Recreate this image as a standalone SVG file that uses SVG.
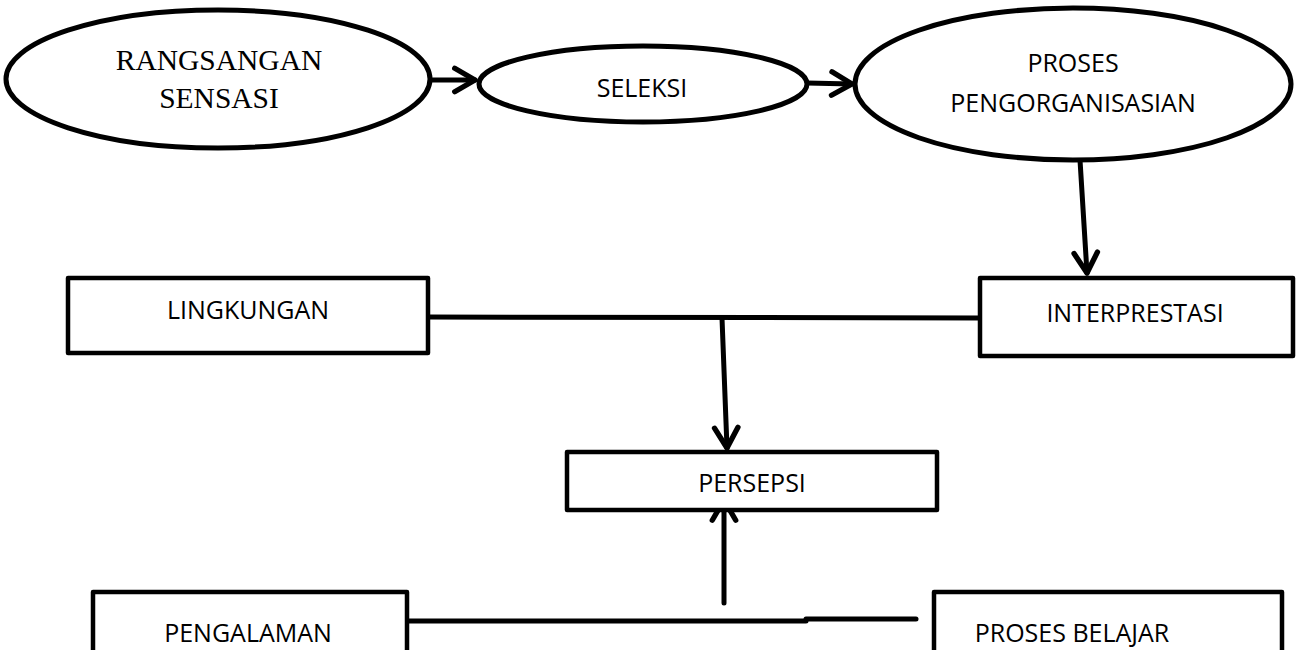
<svg xmlns="http://www.w3.org/2000/svg" width="1299" height="650" viewBox="0 0 1299 650">
  <defs>
    <style>
      .shape { fill: #ffffff; stroke: #000000; stroke-width: 5; }
      .box { fill: #ffffff; stroke: #000000; stroke-width: 4.5; stroke-linejoin: round; }
      .sans { font-family: "Open Sans", "Noto Sans", sans-serif; font-size: 25px; fill: #000000; text-anchor: middle; }
      .serif { font-family: "Liberation Serif", "Times New Roman", serif; font-size: 29.5px; fill: #000000; text-anchor: middle; }
      .conn { stroke: #000000; stroke-width: 5; fill: none; stroke-linecap: round; }
    </style>
    <marker id="arrow" markerUnits="userSpaceOnUse" markerWidth="32" markerHeight="32" viewBox="-24 -15 28 30" refX="0" refY="0" orient="auto">
      <path d="M -19 -11 L 0 0 L -19 11" fill="none" stroke="#000000" stroke-width="5" stroke-linecap="round" stroke-linejoin="round"/>
    </marker>
  </defs>
  <rect x="0" y="0" width="1299" height="650" fill="#ffffff"/>

  <g id="connectors">
    <line class="conn" x1="431" y1="80" x2="475" y2="80" marker-end="url(#arrow)"/>
    <line class="conn" x1="807" y1="83" x2="852" y2="84" marker-end="url(#arrow)"/>
    <line class="conn" x1="1080" y1="160" x2="1087" y2="273" marker-end="url(#arrow)"/>
    <line class="conn" x1="428" y1="317" x2="980" y2="318"/>
    <line class="conn" x1="722" y1="318" x2="727" y2="448" marker-end="url(#arrow)"/>
    <line class="conn" x1="407" y1="621" x2="806" y2="621"/>
    <line class="conn" x1="806" y1="619" x2="916" y2="619"/>
    <line class="conn" x1="724" y1="603" x2="724" y2="500" marker-end="url(#arrow)"/>
  </g>

  <g id="node-rangsangan">
    <ellipse class="shape" cx="218" cy="79" rx="212" ry="69"/>
    <text class="serif" x="219" y="70">RANGSANGAN</text>
    <text class="serif" x="219" y="108">SENSASI</text>
  </g>

  <g id="node-seleksi">
    <ellipse class="shape" cx="643" cy="84" rx="164" ry="38"/>
    <text class="sans" x="642" y="97">SELEKSI</text>
  </g>

  <g id="node-proses-pengorganisasian">
    <ellipse class="shape" cx="1073" cy="84" rx="218" ry="76"/>
    <text class="sans" x="1073" y="72">PROSES</text>
    <text class="sans" x="1073" y="112">PENGORGANISASIAN</text>
  </g>

  <g id="node-lingkungan">
    <rect class="box" x="68" y="278" width="360" height="75"/>
    <text class="sans" x="248" y="319">LINGKUNGAN</text>
  </g>

  <g id="node-interprestasi">
    <rect class="box" x="980" y="278" width="313" height="78"/>
    <text class="sans" x="1135" y="322">INTERPRESTASI</text>
  </g>

  <g id="node-persepsi">
    <rect class="box" x="567" y="452" width="370" height="58"/>
    <text class="sans" x="752" y="492">PERSEPSI</text>
  </g>

  <g id="node-pengalaman">
    <rect class="box" x="93" y="592" width="314" height="75"/>
    <text class="sans" x="248" y="642">PENGALAMAN</text>
  </g>

  <g id="node-proses-belajar">
    <rect class="box" x="934" y="592" width="348" height="75"/>
    <text class="sans" x="1072" y="642">PROSES BELAJAR</text>
  </g>
</svg>
